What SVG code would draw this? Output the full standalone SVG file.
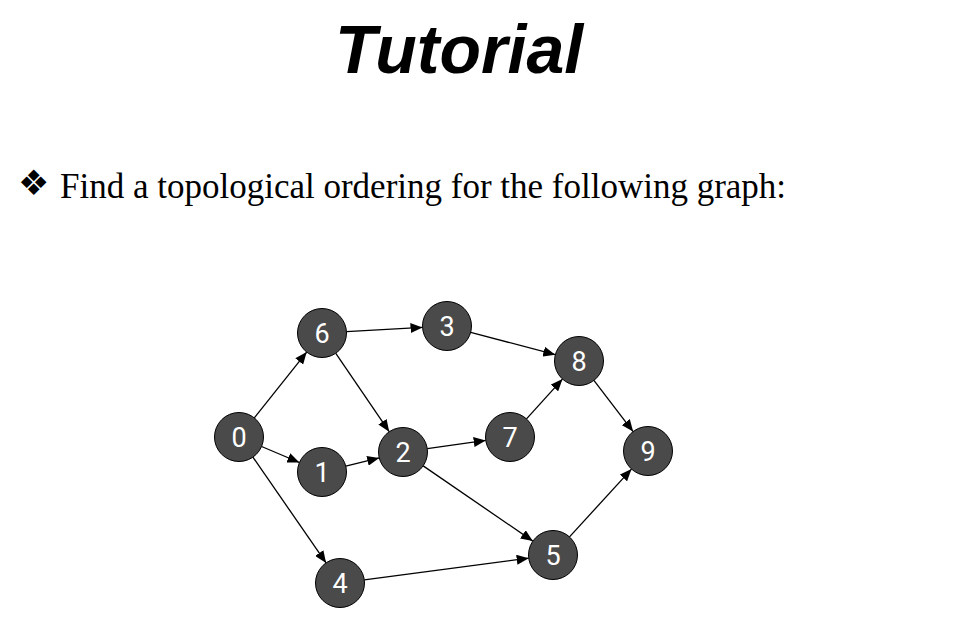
<svg xmlns="http://www.w3.org/2000/svg" width="961" height="639" viewBox="0 0 961 639">
<defs>
<marker id="arr" viewBox="0 0 12 10" refX="12" refY="5" markerWidth="12" markerHeight="10" markerUnits="userSpaceOnUse" orient="auto">
<path d="M0,0 L12,5 L0,10 z" fill="#000"/>
</marker>
<style>
.node circle{fill:#4a4a4a;stroke:#000;stroke-width:1}
.node text{fill:#fff;font-family:Roboto,"Liberation Sans",sans-serif;font-size:27px;text-anchor:middle}
.edges line{stroke:#000;stroke-width:1.3;marker-end:url(#arr)}
</style>
</defs>
<rect width="961" height="639" fill="#fff"/>
<text x="335" y="73" font-family="'Liberation Sans',Arial,sans-serif" font-size="68" font-weight="bold" font-style="italic" fill="#000">Tutorial</text>
<text x="18" y="195" font-family="'DejaVu Sans',sans-serif" font-size="35" fill="#000">❖</text>
<text x="60" y="198" font-family="'Liberation Serif','Times New Roman',serif" font-size="35" fill="#000">Find a topological ordering for the following graph:</text>
<g class="edges" id="edges">
<line x1="254.3" y1="417.9" x2="306.7" y2="352.1"/>
<line x1="261.6" y1="446.5" x2="299.4" y2="462.5"/>
<line x1="252.9" y1="457.1" x2="326.1" y2="562.9"/>
<line x1="346.5" y1="331.6" x2="422.5" y2="327.4"/>
<line x1="335.8" y1="353.3" x2="389.2" y2="431.7"/>
<line x1="345.8" y1="466.1" x2="379.2" y2="457.9"/>
<line x1="427.3" y1="448.6" x2="485.7" y2="440.4"/>
<line x1="423.2" y1="465.9" x2="532.8" y2="541.1"/>
<line x1="470.7" y1="332.3" x2="555.3" y2="354.7"/>
<line x1="526.5" y1="418.9" x2="562.5" y2="379.1"/>
<line x1="593.9" y1="380.4" x2="633.1" y2="431.6"/>
<line x1="364.3" y1="579.8" x2="528.7" y2="558.2"/>
<line x1="569.5" y1="536.9" x2="631.5" y2="469.1"/>
</g>
<g class="node" id="n0"><circle cx="239" cy="437" r="24.5"/><text x="239" y="446.5">0</text></g>
<g class="node" id="n1"><circle cx="322" cy="472" r="24.5"/><text x="322" y="481.5">1</text></g>
<g class="node" id="n2"><circle cx="403" cy="452" r="24.5"/><text x="403" y="461.5">2</text></g>
<g class="node" id="n3"><circle cx="447" cy="326" r="24.5"/><text x="447" y="335.5">3</text></g>
<g class="node" id="n4"><circle cx="340" cy="583" r="24.5"/><text x="340" y="592.5">4</text></g>
<g class="node" id="n5"><circle cx="553" cy="555" r="24.5"/><text x="553" y="564.5">5</text></g>
<g class="node" id="n6"><circle cx="322" cy="333" r="24.5"/><text x="322" y="342.5">6</text></g>
<g class="node" id="n7"><circle cx="510" cy="437" r="24.5"/><text x="510" y="446.5">7</text></g>
<g class="node" id="n8"><circle cx="579" cy="361" r="24.5"/><text x="579" y="370.5">8</text></g>
<g class="node" id="n9"><circle cx="648" cy="451" r="24.5"/><text x="648" y="460.5">9</text></g>
</svg>
